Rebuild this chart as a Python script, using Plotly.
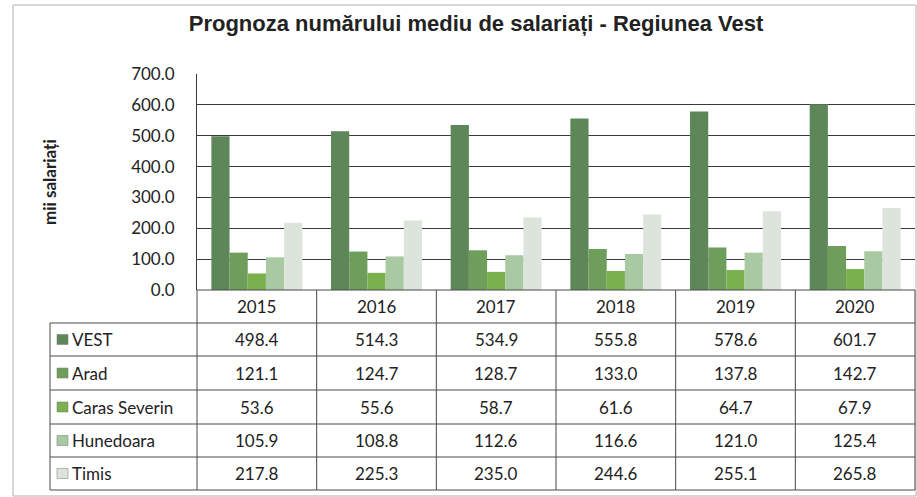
import plotly.graph_objects as go

years = ["2015", "2016", "2017", "2018", "2019", "2020"]
series_names = ["VEST", "Arad", "Caras Severin", "Hunedoara", "Timis"]
vest = [498.4, 514.3, 534.9, 555.8, 578.6, 601.7]
arad = [121.1, 124.7, 128.7, 133.0, 137.8, 142.7]
caras = [53.6, 55.6, 58.7, 61.6, 64.7, 67.9]
hunedoara = [105.9, 108.8, 112.6, 116.6, 121.0, 125.4]
timis = [217.8, 225.3, 235.0, 244.6, 255.1, 265.8]
y_ticks = [0, 100, 200, 300, 400, 500, 600, 700]

values = [vest, arad, caras, hunedoara, timis]
colors = ["#5d8758", "#6f9e5c", "#7bb04e", "#a9c9a2", "#dce4dc"]

W, H = 917, 497
def px(x):
    return x / W
def py(y):
    return 1 - y / H

PLOT_L, PLOT_R, PLOT_T, PLOT_B = 197, 915, 74, 290
TABLE_L = 50
row_edges = [290, 323, 356, 390, 424, 457, 490]
FONT = "Lato, Calibri, sans-serif"
LINE = "#4a4a4a"
col_w = (PLOT_R - PLOT_L) / len(years)

def col_center(i):
    return PLOT_L + (i + 0.5) * col_w

fig = go.Figure()
for name, vals, col in zip(series_names, values, colors):
    fig.add_trace(go.Bar(x=years, y=vals, name=name, marker=dict(color=col, line=dict(width=0))))

shapes = []
annotations = []

# outer border
shapes.append(dict(type="rect", xref="paper", yref="paper", x0=px(13), x1=px(916), y0=py(496), y1=py(5),
                   line=dict(color="#b0b0b0", width=1)))

# table horizontal lines
shapes.append(dict(type="line", xref="paper", yref="paper", x0=px(PLOT_L), x1=px(PLOT_R),
                   y0=py(row_edges[0]), y1=py(row_edges[0]), line=dict(color=LINE, width=1)))
for ye in row_edges[1:]:
    shapes.append(dict(type="line", xref="paper", yref="paper", x0=px(TABLE_L), x1=px(PLOT_R),
                       y0=py(ye), y1=py(ye), line=dict(color=LINE, width=1)))
# table vertical lines
shapes.append(dict(type="line", xref="paper", yref="paper", x0=px(TABLE_L), x1=px(TABLE_L),
                   y0=py(row_edges[1]), y1=py(row_edges[-1]), line=dict(color=LINE, width=1)))
for i in range(len(years) + 1):
    xe = PLOT_L + i * col_w
    shapes.append(dict(type="line", xref="paper", yref="paper", x0=px(xe), x1=px(xe),
                       y0=py(row_edges[0]), y1=py(row_edges[-1]), line=dict(color=LINE, width=1)))

# header years
for i, yr in enumerate(years):
    annotations.append(dict(xref="paper", yref="paper", x=px(col_center(i)),
                            y=py((row_edges[0] + row_edges[1]) / 2), xanchor="center", yanchor="middle",
                            text=yr, showarrow=False, font=dict(family=FONT, size=17, color="#222")))

# rows
for r, (name, vals, col) in enumerate(zip(series_names, values, colors)):
    yc = (row_edges[r + 1] + row_edges[r + 2]) / 2
    shapes.append(dict(type="rect", xref="paper", yref="paper", x0=px(57), x1=px(68),
                       y0=py(yc + 5), y1=py(yc - 5), fillcolor=col, line=dict(color="#777", width=0.5)))
    annotations.append(dict(xref="paper", yref="paper", x=px(70), y=py(yc), xanchor="left", yanchor="middle",
                            text=name, showarrow=False, font=dict(family=FONT, size=17, color="#222")))
    for i, v in enumerate(vals):
        annotations.append(dict(xref="paper", yref="paper", x=px(col_center(i)), y=py(yc),
                                xanchor="center", yanchor="middle", text=f"{v:.1f}",
                                showarrow=False, font=dict(family=FONT, size=17, color="#222")))

# y-axis title
annotations.append(dict(xref="paper", yref="paper", x=px(50), y=py((PLOT_T + PLOT_B) / 2),
                        xanchor="center", yanchor="middle",
                        text="<b>mii salariați</b>", textangle=-90, showarrow=False,
                        font=dict(family=FONT, size=17, color="#222")))

fig.update_layout(
    width=W, height=H, autosize=False,
    margin=dict(l=0, r=0, t=0, b=0, pad=0, autoexpand=False),
    paper_bgcolor="white", plot_bgcolor="white",
    barmode="group", bargap=0.24, bargroupgap=0,
    showlegend=False,
    title=dict(text="<b>Prognoza numărului mediu de salariați - Regiunea Vest</b>",
               x=px(476), y=py(23), xref="paper", yref="paper", xanchor="center", yanchor="middle",
               font=dict(family="Liberation Sans, Arial, sans-serif", size=22, color="#222")),
    xaxis=dict(type="category", domain=[px(PLOT_L), px(PLOT_R)], range=[-0.5, 5.5], showticklabels=False,
               showgrid=False, zeroline=False, showline=False, fixedrange=True),
    yaxis=dict(domain=[py(PLOT_B), py(PLOT_T)], range=[0, 700], tickvals=y_ticks,
               ticktext=[f"{t:.1f}" for t in y_ticks], tickfont=dict(family=FONT, size=17, color="#222"),
               showgrid=True, gridcolor="#3a3a3a", gridwidth=1, zeroline=False,
               showline=True, linecolor="#3a3a3a", linewidth=1, ticklabelstandoff=18),
    shapes=shapes, annotations=annotations,
)

fig.write_html("out.html", config={"displayModeBar": False},
               post_script="document.body.style.margin='0px';document.body.style.overflow='hidden';")
